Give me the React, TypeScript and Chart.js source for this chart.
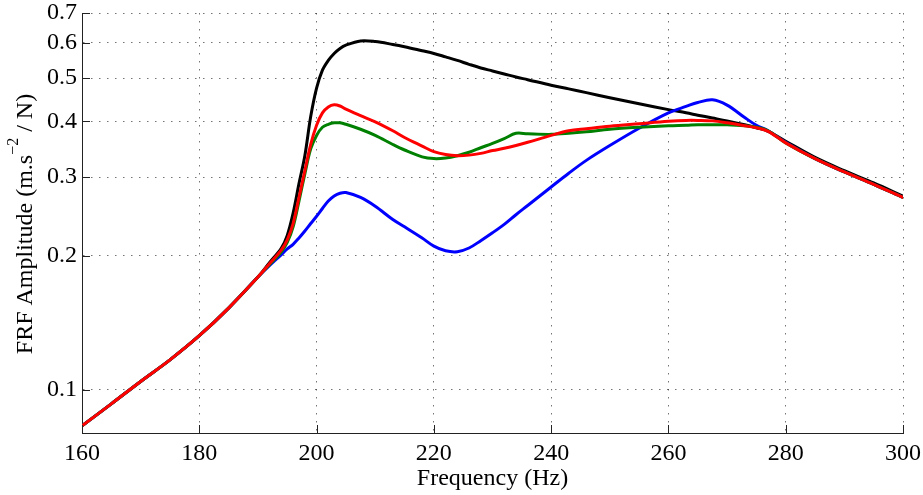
import React, { useEffect, useRef } from 'react';
import { Chart, registerables } from 'chart.js';

Chart.register(...registerables);

const FONT = '"Liberation Serif", "Times New Roman", serif';

const FREQ = [160, 165, 170, 175, 180, 185, 190, 192, 194, 195, 196, 197, 198, 199, 200, 201, 202, 203, 204, 205, 207.5, 210, 213, 215, 218, 220, 222, 224, 226, 228, 230, 232, 234, 236, 240, 243, 246, 250, 255, 260, 263, 265, 267.5, 270, 273, 275, 277, 280, 285, 290, 295, 300];

const BLACK = [0.083, 0.093, 0.1044, 0.1167, 0.1322, 0.1525, 0.179, 0.193, 0.208, 0.222, 0.249, 0.29, 0.335, 0.41, 0.475, 0.521, 0.548, 0.568, 0.583, 0.593, 0.606, 0.604, 0.595, 0.588, 0.576, 0.568, 0.558, 0.548, 0.537, 0.527, 0.519, 0.511, 0.503, 0.496, 0.482, 0.473, 0.464, 0.452, 0.438, 0.425, 0.418, 0.413, 0.407, 0.401, 0.393, 0.387, 0.38, 0.361, 0.332, 0.31, 0.291, 0.272];

const RED = [0.083, 0.093, 0.1044, 0.1167, 0.1322, 0.1525, 0.179, 0.192, 0.206, 0.217, 0.236, 0.27, 0.31, 0.355, 0.392, 0.418, 0.431, 0.436, 0.433, 0.426, 0.412, 0.399, 0.381, 0.368, 0.352, 0.342, 0.337, 0.335, 0.336, 0.339, 0.344, 0.348, 0.353, 0.359, 0.372, 0.381, 0.385, 0.39, 0.395, 0.4, 0.402, 0.402, 0.401, 0.397, 0.391, 0.387, 0.38, 0.358, 0.33, 0.308, 0.289, 0.27];

const GREEN = [0.083, 0.093, 0.1044, 0.1167, 0.1322, 0.1525, 0.179, 0.191, 0.204, 0.214, 0.232, 0.265, 0.305, 0.347, 0.372, 0.388, 0.394, 0.397, 0.397, 0.394, 0.384, 0.372, 0.355, 0.345, 0.333, 0.33, 0.331, 0.335, 0.341, 0.349, 0.357, 0.366, 0.376, 0.375, 0.374, 0.376, 0.379, 0.384, 0.388, 0.391, 0.392, 0.393, 0.393, 0.393, 0.391, 0.388, 0.381, 0.358, 0.33, 0.308, 0.289, 0.27];

const BLUE = [0.083, 0.093, 0.1044, 0.1167, 0.1322, 0.1525, 0.179, 0.19, 0.201, 0.207, 0.212, 0.219, 0.227, 0.236, 0.245, 0.255, 0.265, 0.272, 0.276, 0.277, 0.27, 0.258, 0.241, 0.232, 0.219, 0.21, 0.205, 0.204, 0.208, 0.216, 0.225, 0.235, 0.247, 0.259, 0.285, 0.306, 0.327, 0.353, 0.386, 0.418, 0.432, 0.441, 0.447, 0.435, 0.408, 0.392, 0.381, 0.359, 0.33, 0.308, 0.289, 0.27];

const X_TICKS = [160, 180, 200, 220, 240, 260, 280, 300];
const Y_TICKS = [0.1, 0.2, 0.3, 0.4, 0.5, 0.6, 0.7];
const X_TITLE = 'Frequency (Hz)';
const Y_TITLE_MAIN = 'FRF Amplitude (m.s';
const Y_TITLE_SUP = '\u22122';
const Y_TITLE_END = ' / N)';

const toPoints = (vals: number[]) => FREQ.map((f, i) => ({ x: f, y: vals[i] }));

const decorations = {
  id: 'decorations',
  afterDraw(chart: any) {
    const { ctx, chartArea, scales } = chart;
    const xs = scales.x;
    const ys = scales.y;
    ctx.save();
    ctx.strokeStyle = '#222';
    ctx.lineWidth = 1;
    ctx.setLineDash([]);
    ctx.beginPath();
    X_TICKS.forEach((v) => {
      const px = Math.round(xs.getPixelForValue(v)) + 0.5;
      ctx.moveTo(px, chartArea.bottom);
      ctx.lineTo(px, chartArea.bottom - 8);
    });
    Y_TICKS.forEach((v) => {
      const py = Math.round(ys.getPixelForValue(v)) + 0.5;
      ctx.moveTo(chartArea.left, py);
      ctx.lineTo(chartArea.left + 8, py);
    });
    ctx.stroke();

    ctx.fillStyle = '#000';
    ctx.font = `24px ${FONT}`;
    ctx.textAlign = 'center';
    ctx.textBaseline = 'alphabetic';
    ctx.fillText(X_TITLE, (chartArea.left + chartArea.right) / 2, 485);

    const mainFont = `24px ${FONT}`;
    const supFont = `16px ${FONT}`;
    ctx.font = mainFont;
    const w1 = ctx.measureText(Y_TITLE_MAIN).width;
    const w3 = ctx.measureText(Y_TITLE_END).width;
    ctx.font = supFont;
    const w2 = ctx.measureText(Y_TITLE_SUP).width;
    const total = w1 + w2 + w3;
    ctx.translate(32, (chartArea.top + chartArea.bottom) / 2 + 1);
    ctx.rotate(-Math.PI / 2);
    ctx.textAlign = 'left';
    const start = -total / 2;
    ctx.font = mainFont;
    ctx.fillText(Y_TITLE_MAIN, start, 0);
    ctx.font = supFont;
    ctx.fillText(Y_TITLE_SUP, start + w1, -14);
    ctx.font = mainFont;
    ctx.fillText(Y_TITLE_END, start + w1 + w2, 0);
    ctx.restore();
  },
};

export default function App() {
  const canvasRef = useRef<HTMLCanvasElement | null>(null);

  useEffect(() => {
    const canvas = canvasRef.current;
    if (!canvas) return;
    const mk = (label: string, data: number[], color: string) => ({
      label,
      data: toPoints(data),
      borderColor: color,
      backgroundColor: color,
      borderWidth: 3,
      pointRadius: 0,
      fill: false,
      tension: 0.35,
      borderJoinStyle: 'round' as const,
      borderCapStyle: 'round' as const,
    });
    const gridDash = [1.5, 6.5];
    const chart = new Chart(canvas, {
      type: 'line',
      data: {
        datasets: [
          mk('Red', RED, '#ff0000'),
          mk('Green', GREEN, '#008000'),
          mk('Blue', BLUE, '#0000ff'),
          mk('Black', BLACK, '#000000'),
        ],
      },
      options: {
        animation: false,
        responsive: false,
        maintainAspectRatio: false,
        layout: { padding: { left: 0, top: 13, right: 20, bottom: 0 } },
        plugins: {
          legend: { display: false },
          tooltip: { enabled: false },
          title: { display: false },
        },
        scales: {
          x: {
            type: 'linear',
            min: 160,
            max: 300,
            afterBuildTicks: (scale: any) => {
              scale.ticks = X_TICKS.map((v) => ({ value: v }));
            },
            afterFit: (scale: any) => {
              scale.height = 62;
              scale.paddingLeft = 0;
              scale.paddingRight = 0;
            },
            ticks: {
              color: '#000',
              font: { family: FONT, size: 24 },
              padding: 6,
              maxRotation: 0,
              autoSkip: false,
              callback: (v: any) => String(v),
            },
            grid: {
              color: 'rgba(0,0,0,0.55)',
              lineWidth: 1,
              drawTicks: false,
            },
            border: { display: true, color: '#222', width: 1, dash: gridDash },
          },
          y: {
            type: 'logarithmic',
            min: 0.08,
            max: 0.7,
            afterBuildTicks: (scale: any) => {
              scale.ticks = Y_TICKS.map((v) => ({ value: v }));
            },
            afterFit: (scale: any) => {
              scale.width = 82;
              scale.paddingTop = 0;
              scale.paddingBottom = 0;
            },
            ticks: {
              color: '#000',
              font: { family: FONT, size: 24 },
              padding: 5,
              autoSkip: false,
              callback: (v: any) => Number(v).toFixed(1),
            },
            grid: {
              color: 'rgba(0,0,0,0.55)',
              lineWidth: 1,
              drawTicks: false,
            },
            border: { display: true, color: '#222', width: 1, dash: gridDash },
          },
        },
      },
      plugins: [decorations],
    } as any);
    return () => chart.destroy();
  }, []);

  return (
    <div style={{ position: 'fixed', left: 0, top: 0, width: 923, height: 495, background: '#fff' }}>
      <canvas ref={canvasRef} width={923} height={495} style={{ display: 'block' }} />
    </div>
  );
}
